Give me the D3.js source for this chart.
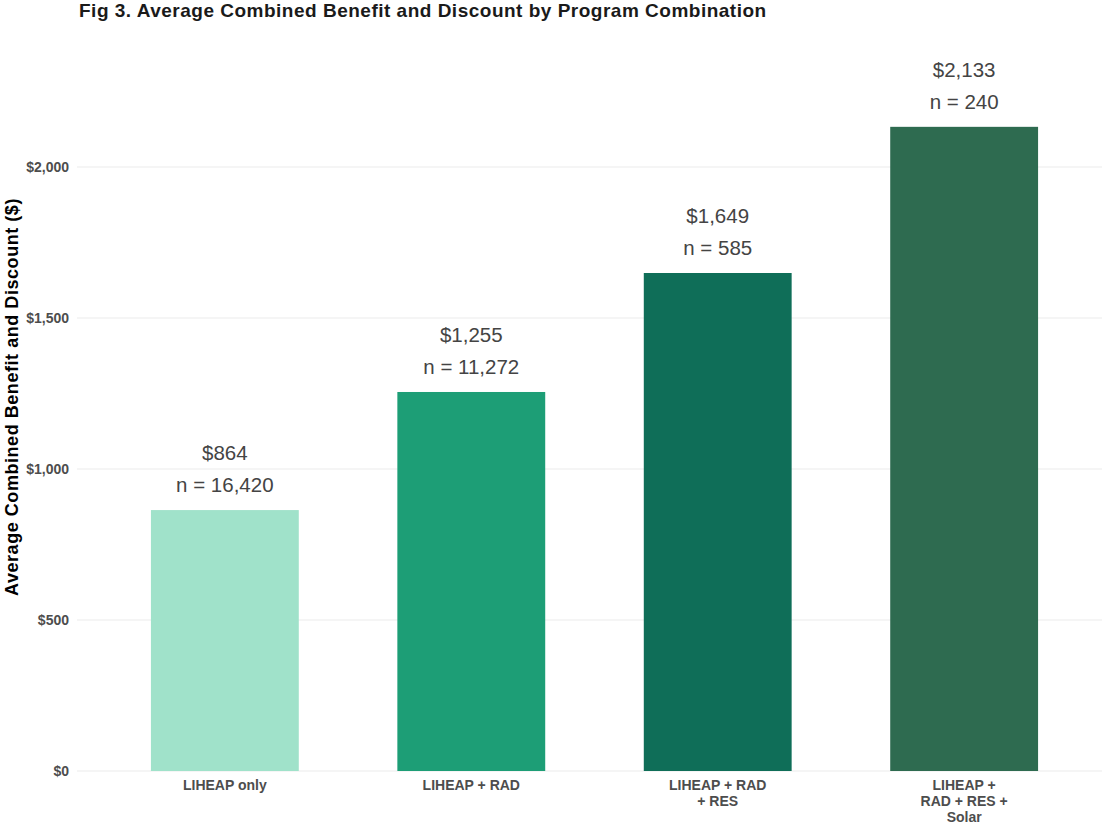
<!DOCTYPE html>
<html><head><meta charset="utf-8">
<script src="https://cdn.jsdelivr.net/npm/d3@7"></script>
<style>body{margin:0;background:#fff}svg{display:block}</style>
</head><body>
<svg id="chart" width="1102" height="827"></svg>
<script>
const categories = ["LIHEAP only", "LIHEAP + RAD", "LIHEAP + RAD + RES", "LIHEAP + RAD + RES + Solar"];
const categoryLines = [["LIHEAP only"], ["LIHEAP + RAD"], ["LIHEAP + RAD", "+ RES"], ["LIHEAP +", "RAD + RES +", "Solar"]];
const values = [864, 1255, 1649, 2133];
const counts = [16420, 11272, 585, 240];
const colors = ["#a0e2ca", "#1d9e76", "#0f6e58", "#2e6b50"];
const yTicks = [0, 500, 1000, 1500, 2000];

const svg = d3.select("#chart");
const font = "'Liberation Sans', Arial, sans-serif";

const x = d3.scaleBand().domain(categories).range([77, 1112]).paddingInner(0.4).paddingOuter(0.3);
const y = d3.scaleLinear().domain([0, 2000]).range([771, 167]);

// gridlines
svg.append("g").selectAll("line").data(yTicks).join("line")
  .attr("x1", 77).attr("x2", 1102)
  .attr("y1", d => y(d)).attr("y2", d => y(d))
  .attr("stroke", "#ebebeb").attr("stroke-width", 1.1);

// y axis
const yAxis = svg.append("g").attr("transform", "translate(77,0)")
  .call(d3.axisLeft(y).tickValues(yTicks).tickSize(0).tickPadding(8).tickFormat(d => "$" + d3.format(",")(d)));
yAxis.select(".domain").remove();
yAxis.selectAll("text").attr("font-family", font).attr("font-size", "14px")
  .attr("font-weight", "bold").attr("fill", "#4d4d4d");

// bars
svg.append("g").selectAll("rect").data(categories).join("rect")
  .attr("x", d => x(d)).attr("width", x.bandwidth())
  .attr("y", (d, i) => y(values[i])).attr("height", (d, i) => y(0) - y(values[i]))
  .attr("fill", (d, i) => colors[i]);

// value labels
const lab = svg.append("g").attr("font-family", font).attr("font-size", "20.5px")
  .attr("fill", "#444").attr("text-anchor", "middle");
categories.forEach((c, i) => {
  const cx = x(c) + x.bandwidth() / 2;
  lab.append("text").attr("x", cx).attr("y", y(values[i]) - 50).text("$" + d3.format(",")(values[i]));
  lab.append("text").attr("x", cx).attr("y", y(values[i]) - 18).text("n = " + d3.format(",")(counts[i]));
});

// x labels
const xl = svg.append("g").attr("font-family", font).attr("font-size", "14px")
  .attr("font-weight", "bold").attr("fill", "#4d4d4d").attr("text-anchor", "middle");
categories.forEach((c, i) => {
  const cx = x(c) + x.bandwidth() / 2;
  const t = xl.append("text").attr("x", cx).attr("y", 790);
  categoryLines[i].forEach((ln, j) => {
    t.append("tspan").attr("x", cx).attr("dy", j === 0 ? 0 : 16).text(ln);
  });
});

// y title
svg.append("text").attr("transform", "translate(18,397) rotate(-90)")
  .attr("text-anchor", "middle").attr("font-family", font).attr("font-size", "18px")
  .attr("letter-spacing", "0.55px")
  .attr("font-weight", "bold").attr("fill", "#000")
  .text("Average Combined Benefit and Discount ($)");

// title
svg.append("text").attr("x", 79).attr("y", 17).attr("font-family", font)
  .attr("font-size", "19px").attr("letter-spacing", "0.5px")
  .attr("font-weight", "bold").attr("fill", "#1a1a1a")
  .text("Fig 3. Average Combined Benefit and Discount by Program Combination");
</script>
</body></html>
